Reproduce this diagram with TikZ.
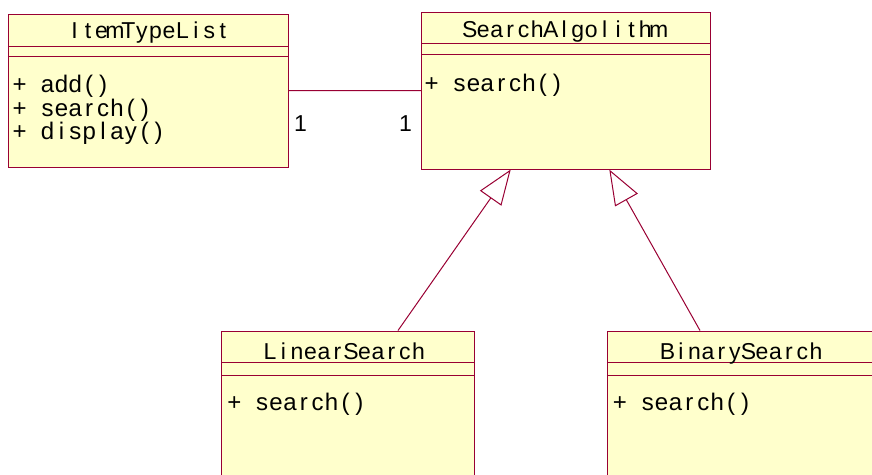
\documentclass[tikz,border=0pt]{standalone}
\usepackage{fontspec}
\setmainfont{Liberation Sans}
\usetikzlibrary{arrows.meta}
\definecolor{umlfill}{RGB}{255,255,204}
\definecolor{umlline}{RGB}{153,0,51}

% set every character of a string in a cell of fixed width
\ExplSyntaxOn
\NewDocumentCommand\cells{mm}{\str_map_inline:nn {#2} {\makebox[#1][c]{##1}}}
\ExplSyntaxOff

\tikzset{
  classbox/.style={draw=umlline, fill=umlfill, line width=1pt, rectangle, inner sep=0pt},
  classtitle/.style={font=\fontsize{23}{26}\selectfont, inner sep=0pt, anchor=base, text=black},
  members/.style={font=\fontsize{24}{26}\selectfont, inner sep=0pt, anchor=base west, text=black},
  compart/.style={draw=umlline, line width=1pt},
  assoc/.style={draw=umlline, line width=1pt},
  inherit/.style={draw=umlline, line width=1pt, -{Triangle[open, length=35pt, width=26pt, fill=white]}},
  mult/.style={font=\fontsize{23}{26}\selectfont, inner sep=0pt},
}
\newcommand\ttl[1]{\cells{13.5pt}{#1}}
\newcommand\mbr[1]{\cells{13.9pt}{#1}}

\begin{document}
\begin{tikzpicture}[x=1pt, y=-1pt]
  \useasboundingbox (0,0) rectangle (872,474);
  \clip (0,0) rectangle (872,474);

  % class boxes
  \node[classbox, minimum width=279.7pt, minimum height=153pt] (itl) at (148.2,90.5) {};
  \node[classbox, minimum width=288.3pt, minimum height=156.7pt] (sa) at (565.9,90.7) {};
  \node[classbox, minimum width=252.3pt, minimum height=180pt] (lin) at (347.9,421) {};
  \node[classbox, minimum width=290pt, minimum height=180pt] (bin) at (752.3,421) {};

  % compartment separators
  \draw[compart] ([yshift=-32.7pt]itl.north west) -- ([yshift=-32.7pt]itl.north east);
  \draw[compart] ([yshift=-43.3pt]itl.north west) -- ([yshift=-43.3pt]itl.north east);
  \draw[compart] ([yshift=-32pt]sa.north west) -- ([yshift=-32pt]sa.north east);
  \draw[compart] ([yshift=-42.7pt]sa.north west) -- ([yshift=-42.7pt]sa.north east);
  \draw[compart] ([yshift=-32.3pt]lin.north west) -- ([yshift=-32.3pt]lin.north east);
  \draw[compart] ([yshift=-45.3pt]lin.north west) -- ([yshift=-45.3pt]lin.north east);
  \draw[compart] ([yshift=-32.3pt]bin.north west) -- ([yshift=-32.3pt]bin.north east);
  \draw[compart] ([yshift=-45.3pt]bin.north west) -- ([yshift=-45.3pt]bin.north east);

  % class names
  \node[classtitle] (itlname) at (148.7,38.4) {\ttl{ItemTypeList}};
  \node[classtitle] (saname) at (564.2,37.3) {\ttl{SearchAlgolithm}};
  \node[classtitle] (linname) at (344.2,359) {\ttl{LinearSearch}};
  \node[classtitle] (binname) at (741.7,359) {\ttl{BinarySearch}};

  % operations
  \node[members] (itlop1) at (12.6,92.8) {\mbr{+ add()}};
  \node[members] (itlop2) at (12.6,116.3) {\mbr{+ search()}};
  \node[members] (itlop3) at (12.6,139.8) {\mbr{+ display()}};
  \node[members] (saop) at (424.6,91.7) {\mbr{+ search()}};
  \node[members] (linop) at (227.2,410.7) {\mbr{+ search()}};
  \node[members] (binop) at (612.8,410.7) {\mbr{+ search()}};

  % association with multiplicities
  \draw[assoc] (itl.east) -- (sa.west);
  \node[mult] (m1) at (300.5,123.3) {1};
  \node[mult] (m2) at (405.5,123.3) {1};

  % generalisations
  \path (sa.south) ++(-55.2,0) coordinate (tipL);
  \path (sa.south) ++(43.4,0) coordinate (tipB);
  \path (lin.north) ++(50.1,0) coordinate (srcL);
  \path (bin.north) ++(-52.3,0) coordinate (srcB);
  \draw[inherit] (srcL) -- (tipL);
  \draw[inherit] (srcB) -- (tipB);
\end{tikzpicture}
\end{document}
